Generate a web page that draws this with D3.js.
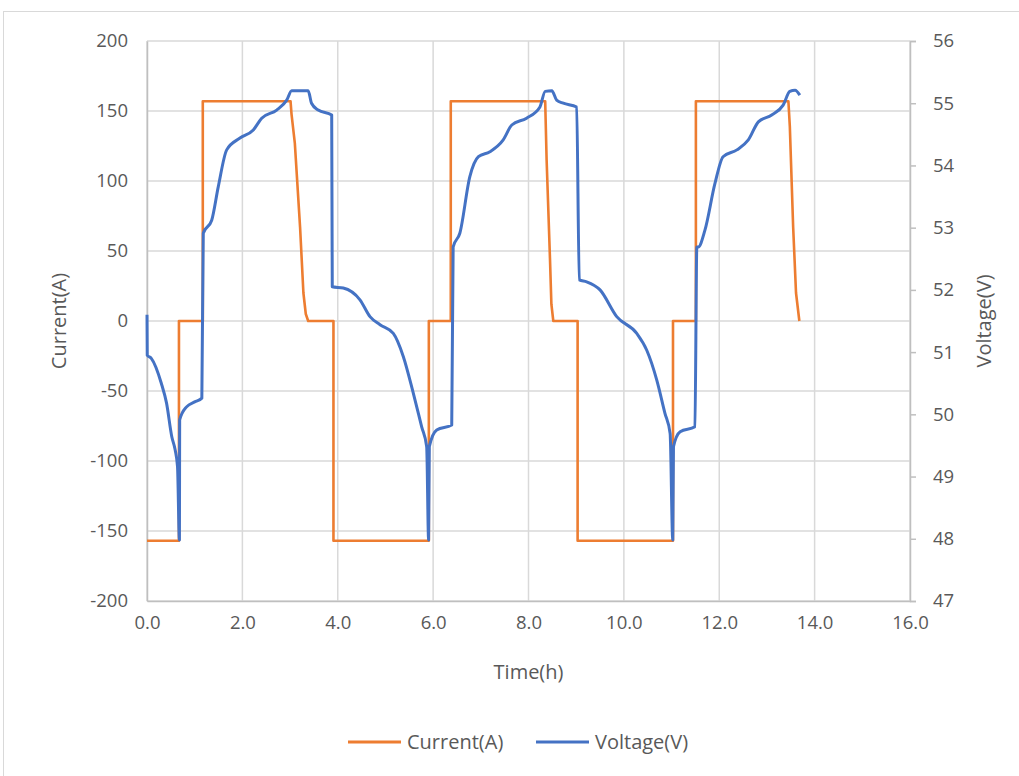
<!DOCTYPE html>
<html><head><meta charset="utf-8">
<script src="https://cdn.jsdelivr.net/npm/d3@7"></script>
<style>body{margin:0;background:#fff;}svg{display:block;font-family:"Open Sans",sans-serif;}</style>
</head><body>
<svg id="c" width="1019" height="776"></svg>
<script>
// Current (A) vs time (h)
const currentTime = [0,0.67,0.67,1.17,1.17,3.01,3.03,3.10,3.21,3.28,3.33,3.38,3.91,3.91,5.91,5.91,6.37,6.37,8.35,8.38,8.45,8.48,8.52,9.03,9.03,11.03,11.03,11.51,11.51,13.45,13.48,13.55,13.61,13.68];
const currentVal  = [-157,-157,0,0,157,157,148,127,67,20,5,0,0,-157,-157,0,0,157,157,115,45,12,0,0,-157,-157,0,0,157,157,139,67,20,0];
// Voltage (V) vs time (h)
const voltageTime = [0,0.005,0.09,0.3,0.41,0.52,0.59,0.64,0.68,0.685,0.83,1.0,1.15,1.18,1.357,1.495,1.671,1.95,2.229,2.405,2.72,2.93,3.034,3.38,3.45,3.59,3.873,3.885,4.116,4.466,4.676,4.886,5.165,5.374,5.584,5.76,5.865,5.905,5.92,6.075,6.39,6.42,6.56,6.77,6.95,7.19,7.47,7.65,7.96,8.24,8.35,8.49,8.59,8.73,9.01,9.065,9.22,9.50,9.85,10.27,10.48,10.69,10.86,10.97,11.025,11.04,11.18,11.49,11.53,11.56,11.70,11.91,12.08,12.37,12.61,12.82,13.10,13.34,13.48,13.59,13.69];
const voltageVal  = [51.60,50.95,50.90,50.50,50.18,49.64,49.43,49.16,47.98,49.91,50.12,50.20,50.26,52.91,53.12,53.66,54.25,54.44,54.57,54.76,54.89,55.05,55.20,55.20,55.00,54.89,54.81,52.05,52.03,51.84,51.57,51.44,51.30,50.93,50.34,49.80,49.48,47.98,49.48,49.75,49.83,52.69,52.91,53.82,54.14,54.22,54.41,54.65,54.76,54.94,55.19,55.20,55.05,55.00,54.94,52.16,52.13,52.00,51.57,51.30,51.03,50.55,50.02,49.69,47.98,49.48,49.72,49.80,52.69,52.69,52.96,53.71,54.14,54.25,54.41,54.70,54.81,54.97,55.19,55.21,55.13];
const xTicks = [0,2,4,6,8,10,12,14,16];
const yLeftTicks = [-200,-150,-100,-50,0,50,100,150,200];
const yRightTicks = [47,48,49,50,51,52,53,54,55,56];
const seriesNames = ["Current(A)","Voltage(V)"];
const colors = ["#ED7D31","#4472C4"];

const svg = d3.select("#c");
const L=147,R=910,T=41,B=601;
const x = d3.scaleLinear().domain([0,16]).range([L,R]);
const yL = d3.scaleLinear().domain([-200,200]).range([B,T]);
const yR = d3.scaleLinear().domain([47,56]).range([B,T]);
const txt="#595959", grid="#d9d9d9", axc="#bfbfbf";

svg.append("rect").attr("x",3.5).attr("y",11.5).attr("width",1030).attr("height",800).attr("fill","none").attr("stroke",grid);

// gridlines
svg.append("g").selectAll("line").data(yLeftTicks).join("line")
  .attr("x1",L).attr("x2",R).attr("y1",d=>yL(d)).attr("y2",d=>yL(d)).attr("stroke",grid).attr("stroke-width",1.5);
svg.append("g").selectAll("line").data(xTicks).join("line")
  .attr("y1",T).attr("y2",B).attr("x1",d=>x(d)).attr("x2",d=>x(d)).attr("stroke",grid).attr("stroke-width",1.5);

// axes
const gx = svg.append("g").attr("transform",`translate(0,${B})`).call(d3.axisBottom(x).tickValues(xTicks).tickFormat(d3.format(".1f")).tickSize(0).tickPadding(15));
const gl = svg.append("g").attr("transform",`translate(${L},0)`).call(d3.axisLeft(yL).tickValues(yLeftTicks).tickFormat(d=>String(d)).tickSize(0).tickPadding(19));
const gr = svg.append("g").attr("transform",`translate(${R},0)`).call(d3.axisRight(yR).tickValues(yRightTicks).tickSize(6).tickPadding(17));
[gx,gl,gr].forEach(g=>{
  g.select(".domain").attr("stroke",axc).attr("stroke-width",1.5);
  g.selectAll(".tick line").attr("stroke",axc).attr("stroke-width",1.5);
  g.selectAll("text").attr("fill",txt).style("font-size","18.5px").style("font-family","'Open Sans',sans-serif");
});

// lines
const lineI = d3.line().x((d,i)=>x(currentTime[i])).y(d=>yL(d));
const lineV = d3.line().x((d,i)=>x(voltageTime[i])).y(d=>yR(d)).curve(d3.curveMonotoneX);
svg.append("path").attr("d",lineI(currentVal)).attr("fill","none").attr("stroke",colors[0]).attr("stroke-width",2.6).attr("stroke-linejoin","round");
svg.append("path").attr("d",lineV(voltageVal)).attr("fill","none").attr("stroke",colors[1]).attr("stroke-width",3).attr("stroke-linejoin","round");

// titles
svg.append("text").attr("transform",`translate(66,${(T+B)/2}) rotate(-90)`).attr("text-anchor","middle").attr("fill",txt).style("font-size","20px").text("Current(A)");
svg.append("text").attr("transform",`translate(991,${(T+B)/2}) rotate(-90)`).attr("text-anchor","middle").attr("fill",txt).style("font-size","20px").text("Voltage(V)");
svg.append("text").attr("x",(L+R)/2).attr("y",679).attr("text-anchor","middle").attr("fill",txt).style("font-size","20px").text("Time(h)");

// legend
const lg = [{x:348},{x:536}];
lg.forEach((p,i)=>{
  svg.append("line").attr("x1",p.x).attr("x2",p.x+53).attr("y1",742).attr("y2",742).attr("stroke",colors[i]).attr("stroke-width",3);
  svg.append("text").attr("x",p.x+59).attr("y",749).attr("fill",txt).style("font-size","20px").text(seriesNames[i]);
});
</script>
</body></html>
